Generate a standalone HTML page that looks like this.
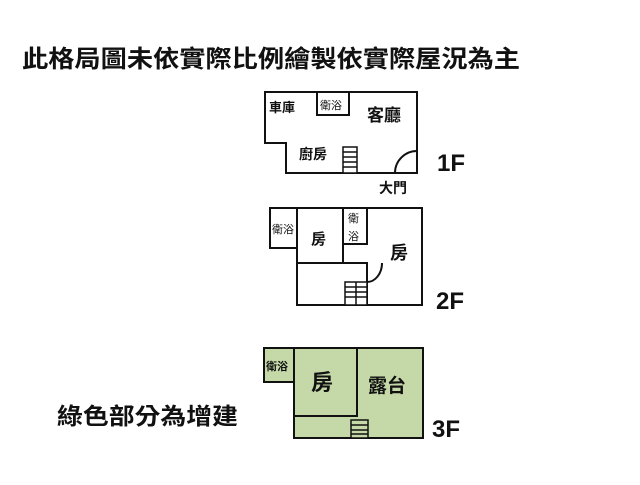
<!DOCTYPE html>
<html><head><meta charset="utf-8"><style>
html,body{margin:0;padding:0;background:#fff;}
svg text{font-family:"Liberation Sans","Noto Sans CJK TC",sans-serif;fill:#111;}
</style></head><body>
<svg width="640" height="480" viewBox="0 0 640 480" xmlns="http://www.w3.org/2000/svg">
<text x="22" y="67" font-size="24" font-weight="bold" textLength="498" lengthAdjust="spacingAndGlyphs">此格局圖未依實際比例繪製依實際屋況為主</text>
<text x="57" y="424" font-size="23" font-weight="bold" textLength="181" lengthAdjust="spacingAndGlyphs">綠色部分為增建</text>
<g fill="none" stroke="#111" stroke-width="2">
<!-- 1F -->
<path d="M265 92 H417 V173 H286 V143 H265 Z"/>
<rect x="317" y="92" width="32" height="23"/>
<path d="M395 173 A22 22 0 0 1 417 151"/>
</g>
<g stroke="#111" stroke-width="1.5" fill="#fff">
<rect x="343" y="147" width="14" height="26"/>
<path d="M343 152H357M343 157H357M343 162H357M343 167H357"/>
</g>
<text x="269" y="112" font-size="13" font-weight="bold">車庫</text>
<text x="320" y="109" font-size="11">衛浴</text>
<text x="367" y="121" font-size="17" font-weight="bold">客廳</text>
<text x="299" y="159" font-size="14" font-weight="bold">廚房</text>
<text x="379" y="193" font-size="14" font-weight="bold">大門</text>
<text x="437" y="171" font-size="24" font-weight="bold">1F</text>
<!-- 2F -->
<g fill="none" stroke="#111" stroke-width="2">
<path d="M270 208 H422 V305 H297 V248 H270 Z"/>
<path d="M297 208 V248"/>
<path d="M343 208 V263 M297 263 H367 V305"/>
<rect x="343" y="208" width="24" height="36"/>
<path d="M382 263 A15 19 0 0 1 367 282"/>
</g>
<g stroke="#111" stroke-width="1.5" fill="#fff">
<rect x="345" y="282" width="22" height="23"/>
<path d="M345 287H367M345 292H367M345 297H367M356 282V305"/>
</g>
<text x="272" y="233" font-size="11">衛浴</text>
<text x="311" y="244" font-size="15" font-weight="bold">房</text>
<text x="348" y="222" font-size="11">衛</text>
<text x="348" y="240" font-size="11">浴</text>
<text x="390" y="259" font-size="18" font-weight="bold">房</text>
<text x="436" y="309" font-size="24" font-weight="bold">2F</text>
<!-- 3F -->
<g fill="#c5d9a8" stroke="#111" stroke-width="2">
<rect x="264" y="348" width="30" height="34"/>
<rect x="294" y="348" width="129" height="90"/>
<rect x="294" y="348" width="63" height="68"/>
</g>
<g stroke="#111" stroke-width="1.5" fill="#c5d9a8">
<rect x="351" y="420" width="17" height="18"/>
<path d="M351 425H368M351 430H368M351 434H368"/>
</g>
<text x="266" y="370" font-size="11" font-weight="bold">衛浴</text>
<text x="311" y="390" font-size="22" font-weight="bold">房</text>
<text x="368" y="392" font-size="19" font-weight="bold">露台</text>
<text x="432" y="437" font-size="24" font-weight="bold">3F</text>
</svg>
</body></html>
